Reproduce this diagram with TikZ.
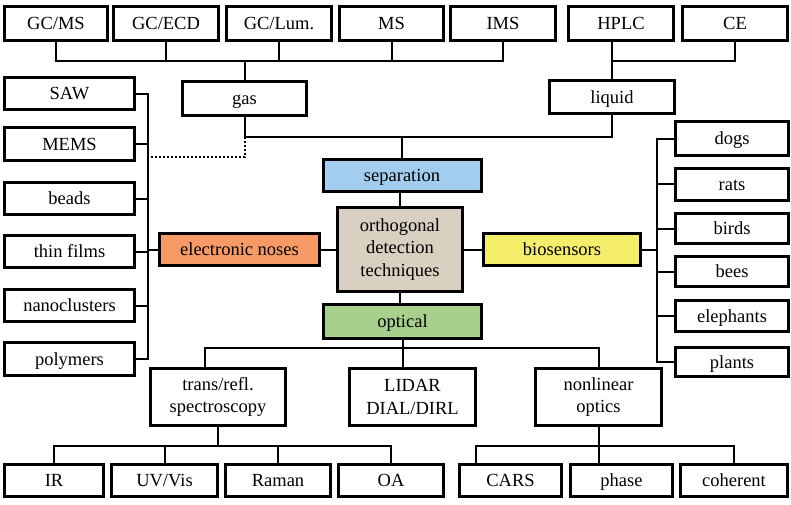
\documentclass[tikz,border=0pt]{standalone}
\usepackage{fontspec}
\setmainfont{Liberation Serif}
\usepackage{xcolor}
\definecolor{sepblue}{HTML}{A3CDEE}
\definecolor{noseorange}{HTML}{F79A66}
\definecolor{bioyellow}{HTML}{F5EE6A}
\definecolor{optgreen}{HTML}{A8D08D}
\definecolor{burlap}{HTML}{D9D0C1}
\tikzset{
    leaf/.style={rectangle, draw=black, fill=white, line width=3pt, inner sep=0pt, minimum height=32pt, align=center, text height=12pt, text depth=0pt, font=\rmfamily\fontsize{18.5}{22.5}\selectfont},
    twoline/.style={text height=, text depth=},
    hub/.style={leaf, minimum width=158pt},
    wire/.style={line width=2pt},
}

\begin{document}
\begin{tikzpicture}[x=1pt, y=-1pt]
        \useasboundingbox (0,0) rectangle (791,504);
        % top row
        \node [leaf, minimum width=103pt, minimum height=34pt] (gcms) at (56,23.5) {GC/MS};
        \node [leaf, minimum width=105pt, minimum height=34pt] (gcecd) at (166,23.5) {GC/ECD};
        \node [leaf, minimum width=105pt, minimum height=34pt] (gclum) at (279,23.5) {GC/Lum.};
        \node [leaf, minimum width=104pt, minimum height=34pt] (ms) at (391.5,23.5) {MS};
        \node [leaf, minimum width=105pt, minimum height=34pt] (ims) at (503,23.5) {IMS};
        \node [leaf, minimum width=105pt, minimum height=34pt] (hplc) at (621,23.5) {HPLC};
        \node [leaf, minimum width=105pt, minimum height=34pt] (ce) at (735,23.5) {CE};
        \node [leaf, minimum width=124pt, minimum height=34pt] (gas) at (244.5,98.5) {gas};
        \node [leaf, minimum width=125pt, minimum height=33pt] (liquid) at (612,97) {liquid};
        % centre
        \node [hub, fill=sepblue] (sep) at (402,175.5) {separation};
        \node [leaf, twoline, fill=burlap, minimum width=125pt, minimum height=84pt] (core) at (400,249.5) {orthogonal\\detection\\techniques};
        \node [hub, fill=optgreen, minimum height=34pt] (opt) at (402.5,321.5) {optical};
        \node [hub, fill=noseorange, minimum width=160pt] (noses) at (239.5,249.5) {electronic noses};
        \node [hub, fill=bioyellow, minimum width=157pt] (bio) at (562,249.5) {biosensors};
        % left column
        \node [leaf, minimum width=130pt] (saw) at (69.5,93.5) {SAW};
        \node [leaf, minimum width=130pt, minimum height=33pt] (mems) at (69.5,144) {MEMS};
        \node [leaf, minimum width=130pt] (beads) at (69.5,198.5) {beads};
        \node [leaf, minimum width=130pt] (films) at (69.5,251.5) {thin films};
        \node [leaf, minimum width=130pt] (nano) at (69.5,305.5) {nanoclusters};
        \node [leaf, minimum width=130pt, minimum height=33pt] (poly) at (69.5,359) {polymers};
        % right column
        \node [leaf, minimum width=113pt, minimum height=34pt] (dogs) at (732,138.5) {dogs};
        \node [leaf, minimum width=113pt] (rats) at (732,184) {rats};
        \node [leaf, minimum width=113pt, minimum height=30pt] (birds) at (732,228.5) {birds};
        \node [leaf, minimum width=113pt, minimum height=30pt] (bees) at (732,271.5) {bees};
        \node [leaf, minimum width=113pt, minimum height=31pt] (eleph) at (732,316) {elephants};
        \node [leaf, minimum width=113pt, minimum height=29pt] (plants) at (732,362) {plants};
        % optical branches
        \node [leaf, twoline, minimum width=135pt, minimum height=57pt] (trans) at (218,397) {trans/refl.\\spectroscopy};
        \node [leaf, twoline, minimum width=126pt, minimum height=57pt] (lidar) at (412.5,397) {LIDAR\\DIAL/DIRL};
        \node [leaf, twoline, minimum width=126pt, minimum height=57pt] (nonlin) at (598.5,397) {nonlinear\\optics};
        % bottom row
        \node [leaf, minimum width=99pt] (ir) at (54,480.5) {IR};
        \node [leaf, minimum width=106pt] (uvvis) at (164.5,480.5) {UV/Vis};
        \node [leaf, minimum width=105pt] (raman) at (278,480.5) {Raman};
        \node [leaf, minimum width=105pt] (oa) at (391,480.5) {OA};
        \node [leaf, minimum width=102pt] (cars) at (510.5,480.5) {CARS};
        \node [leaf, minimum width=102pt] (phase) at (621.5,480.5) {phase};
        \node [leaf, minimum width=107pt] (coh) at (734,480.5) {coherent};
        % rails and buses
        \coordinate (topbus) at (0,61);
        \coordinate (midbus) at (0,137);
        \coordinate (optbus) at (0,348);
        \coordinate (lowbus) at (0,446);
        \coordinate (lrail) at (148,0);
        \coordinate (rrail) at (657,0);
        \coordinate (dotend) at (148,157);
        \coordinate (carsdrop) at ([xshift=-35pt]cars.north);
        \draw[wire] (gcms.south) |- (topbus -| ims.south) -- (ims.south);
        \foreach \n in {gcecd, gclum, ms}
            \draw[wire] (\n.south) -- (\n.south |- topbus);
        \draw[wire] (gas.north) -- (gas.north |- topbus);
        \draw[wire] (liquid.north) -- (liquid.north |- hplc.south);
        \draw[wire] (liquid.north |- topbus) -| (ce.south);
        \draw[wire] (gas.south) |- (midbus -| liquid.south) -- (liquid.south);
        \draw[wire, dotted] (gas.south |- midbus) |- (dotend);
        \draw[wire] (sep.north) -- (sep.north |- midbus);
        \draw[wire] (core.north) -- (core.north |- sep.south);
        \draw[wire] (core.south) -- (core.south |- opt.north);
        \draw[wire] (core.west) -- (noses.east);
        \draw[wire] (core.east) -- (bio.west);
        \draw[wire] (saw.east) -| (lrail |- poly.east) -- (poly.east);
        \foreach \n in {mems, beads, films, nano}
            \draw[wire] (\n.east) -- (\n.east -| lrail);
        \draw[wire] (noses.west) -- (noses.west -| lrail);
        \draw[wire] (dogs.west) -| (rrail |- plants.west) -- (plants.west);
        \foreach \n in {rats, birds, bees, eleph}
            \draw[wire] (\n.west) -- (\n.west -| rrail);
        \draw[wire] (bio.east) -- (bio.east -| rrail);
        \draw[wire] (opt.south) -- (opt.south |- lidar.north);
        \draw[wire] ([xshift=-13pt]trans.north) |- (optbus -| nonlin.north) -- (nonlin.north);
        \draw[wire] (ir.north) |- (lowbus -| oa.north) -- (oa.north);
        \foreach \n in {uvvis, raman}
            \draw[wire] (\n.north) -- (\n.north |- lowbus);
        \draw[wire] (trans.south) -- (trans.south |- lowbus);
        \draw[wire] (carsdrop) |- (lowbus -| coh.north) -- (coh.north);
        \draw[wire] (nonlin.south) -- (nonlin.south |- phase.north);
    \end{tikzpicture}
\end{document}
